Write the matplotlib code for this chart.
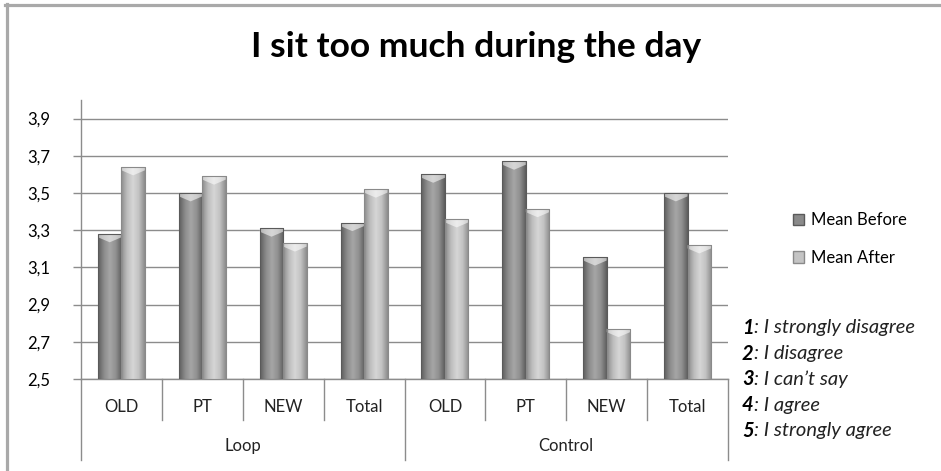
import numpy as np
import matplotlib
matplotlib.use("Agg")
import matplotlib.pyplot as plt
from matplotlib.lines import Line2D
from matplotlib.patches import Patch
from matplotlib.colors import LinearSegmentedColormap
import matplotlib.transforms as mtransforms

# ---- data -------------------------------------------------------------
categories = ["OLD", "PT", "NEW", "Total", "OLD", "PT", "NEW", "Total"]
groups = ["Loop", "Control"]
group_sizes = [4, 4]
mean_before = [3.28, 3.50, 3.31, 3.34, 3.60, 3.67, 3.155, 3.50]
mean_after = [3.64, 3.59, 3.23, 3.52, 3.36, 3.415, 2.77, 3.22]
series_names = ["Mean Before", "Mean After"]
y_ticks = [2.5, 2.7, 2.9, 3.1, 3.3, 3.5, 3.7, 3.9]
scale_notes = [("1", "I strongly disagree"), ("2", "I disagree"),
               ("3", "I can\u2019t say"), ("4", "I agree"),
               ("5", "I strongly agree")]
title = "I sit too much during the day"

FONT = ["Lato", "DejaVu Sans"]
plt.rcParams["font.family"] = FONT

W, H = 941, 471
fig = plt.figure(figsize=(W / 100, H / 100), dpi=100)
fig.patch.set_facecolor("white")


def fx(px):
    return px / W


def fy(py):
    return 1 - py / H


ax = fig.add_axes([fx(81), fy(379), fx(728) - fx(81), fy(100) - fy(379)])

# bar shading: dark edges, lighter centre
cmap_before = LinearSegmentedColormap.from_list(
    "before", ["#5e5e5e", "#8c8c8c", "#a6a6a6", "#909090", "#5e5e5e"])
cmap_after = LinearSegmentedColormap.from_list(
    "after", ["#8c8c8c", "#bdbdbd", "#d6d6d6", "#c2c2c2", "#8c8c8c"])

x = np.arange(len(categories))
bw = 0.29
base = y_ticks[0]
bars_b = ax.bar(x - bw / 2, np.array(mean_before) - base, bw, bottom=base,
                color="#8a8a8a", edgecolor="#5a5a5a", lw=0.6, zorder=3)
bars_a = ax.bar(x + bw / 2, np.array(mean_after) - base, bw, bottom=base,
                color="#c4c4c4", edgecolor="#8a8a8a", lw=0.6, zorder=3)

grad = np.linspace(0, 1, 64).reshape(1, -1)
for bars, cm in [(bars_b, cmap_before), (bars_a, cmap_after)]:
    for p in bars:
        x0, y0, w, h = p.get_x(), p.get_y(), p.get_width(), p.get_height()
        im = ax.imshow(grad, cmap=cm, aspect="auto",
                       extent=[x0, x0 + w, y0, y0 + h], zorder=3.5)
        im.set_clip_path(p)
        # top bevel highlight (chevron)
        ch = 0.045
        ax.fill([x0, x0 + w, x0 + w, x0 + w / 2, x0],
                [y0 + h, y0 + h, y0 + h - ch * 0.4, y0 + h - ch, y0 + h - ch * 0.4],
                color="white", alpha=0.55, lw=0, zorder=3.6)
        ax.add_patch(plt.Rectangle((x0, y0), w, h, fill=False,
                                   edgecolor=p.get_edgecolor(), lw=0.8,
                                   zorder=3.7))

ax.set_xlim(-0.5, len(categories) - 0.5)
ax.set_ylim(2.5, 4.0)
ax.set_yticks(y_ticks)
ax.set_yticklabels([f"{v:.1f}".replace(".", ",") for v in y_ticks],
                   fontsize=12)
ax.yaxis.grid(True, color="#8c8c8c", lw=1.0, zorder=1)
ax.set_axisbelow(True)
ax.tick_params(axis="y", length=6, width=1, color="#8c8c8c", pad=16)
ax.tick_params(axis="x", length=0, labelbottom=False)
for s in ["top", "right"]:
    ax.spines[s].set_visible(False)
for s in ["left", "bottom"]:
    ax.spines[s].set_color("#8c8c8c")
    ax.spines[s].set_linewidth(1.0)

# hierarchical category axis
trans = mtransforms.blended_transform_factory(ax.transData, ax.transAxes)
ax_h = 379 - 100
inner_end = -(420 - 379) / ax_h
outer_end = -(460 - 379) / ax_h
outer_pos = [-0.5] + list(np.cumsum(group_sizes) - 0.5)
for xi in np.arange(-0.5, len(categories), 1.0):
    end = outer_end if xi in outer_pos else inner_end
    ax.add_line(Line2D([xi, xi], [0, end], transform=trans, color="#8c8c8c",
                       lw=1.0, clip_on=False))
for xi, lab in zip(x, categories):
    ax.text(xi, -(407 - 379) / ax_h, lab, transform=trans, ha="center",
            va="center", fontsize=12, color="#222222")
start = 0
for g, n in zip(groups, group_sizes):
    ax.text(start + (n - 1) / 2, -(446 - 379) / ax_h, g, transform=trans,
            ha="center", va="center", fontsize=12, color="#222222")
    start += n

# title
fig.text(fx(476), fy(47), title, ha="center", va="center", fontsize=25.5,
         fontweight="bold", color="black")

# legend
handles = [Patch(facecolor="#8a8a8a", edgecolor="#5a5a5a"),
           Patch(facecolor="#c4c4c4", edgecolor="#8a8a8a")]
fig.legend(handles, series_names, loc="center left",
           bbox_to_anchor=(fx(786), fy(239)), frameon=False, fontsize=12,
           handlelength=0.7, handleheight=0.7, handletextpad=0.4,
           labelspacing=1.3, borderaxespad=0)

# scale notes
for i, (num, txt) in enumerate(scale_notes):
    yy = fy(328 + i * 25.7)
    t = fig.text(fx(742), yy, num, ha="left", va="center", fontsize=14.5,
                 fontweight="bold", style="italic", color="black")
    ax.annotate(": " + txt, xy=(1, 0.5), xycoords=t, ha="left", va="center",
                fontsize=14.5, style="italic", color="#222222",
                annotation_clip=False)

# outer frame (top + left edge of the original chart border)
fig.add_artist(Line2D([fx(5), 1], [fy(4.5), fy(4.5)], transform=fig.transFigure,
                      color="#a9a9a9", lw=2.3))
fig.add_artist(Line2D([fx(6.5), fx(6.5)], [fy(3.5), 0],
                      transform=fig.transFigure, color="#a9a9a9", lw=2.3))

fig.savefig("out.png", dpi=100, facecolor="white")
